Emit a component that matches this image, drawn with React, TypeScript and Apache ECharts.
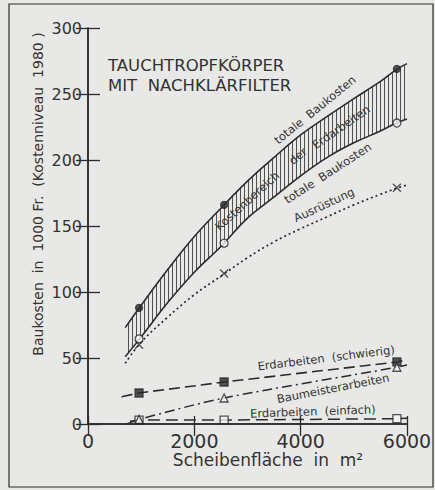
import React, { useEffect, useRef } from "react";
import * as echarts from "echarts";

// ---- data ----
const curveX = [700, 1000, 1500, 2000, 2500, 3000, 3500, 4000, 4500, 5000, 5500, 5800, 6000];
const totalHigh = [73, 90, 117, 142, 163.5, 184, 202, 219, 233, 246.5, 259.5, 268.5, 273];
const totalLow = [51, 66, 92, 115, 134.5, 156, 172, 188, 202, 213, 222, 228, 231];
const equipment = [46, 62, 81, 98, 112, 126, 138, 148, 157, 166, 174, 178.5, 181];

const hardX = [633, 960, 2560, 5810, 6000];
const earthHard = [20.7, 23.5, 31.8, 47, 48.5];
const masonX = [727, 960, 2560, 5810, 6000];
const mason = [0, 3.5, 19.7, 43, 44.7];
const easyX = [790, 960, 2560, 5810, 6000];
const earthEasy = [2, 3, 3, 4, 4.3];

const markX = [960, 2560, 5810];
const highMarks = [88, 166, 269];
const lowMarks = [64.5, 137, 228];
const equipMarks = [60, 114, 179];
const hardMarks = [23.5, 31.8, 47];
const masonMarks = [3.5, 19.7, 43];
const easyMarks = [3, 3, 4];

const xTicks = [0, 2000, 4000, 6000];
const yTicks = [0, 50, 100, 150, 200, 250, 300];

const titleLines = ["TAUCHTROPFKÖRPER", "MIT  NACHKLÄRFILTER"];
const yTitle = "Baukosten  in  1000 Fr.  (Kostenniveau  1980 )";
const xTitle = "Scheibenfläche  in  m²";

// in-plot labels (text, anchor in data units, angle in degrees)
const annoText = [
  "totale  Baukosten",
  "Kostenbereich",
  "der",
  "Erdarbeiten",
  "totale  Baukosten",
  "Ausrüstung",
  "Erdarbeiten  (schwierig)",
  "Baumeisterarbeiten",
  "Erdarbeiten  (einfach)",
];
const annoX = [4270, 2994, 3950, 4760, 4510, 4440, 4480, 4610, 4230];
const annoY = [238, 169, 203, 225, 190, 166, 50, 27, 9.5];
const annoAngle = [39, 42, 39, 35, 33, 25, 7, 11, 2];

const INK = "#2b2b2b";
const PAPER = "#e8e8e6";
const FONT = "DejaVu Sans";

const pairs = (xs: number[], ys: number[]) => xs.map((x, i) => [x, ys[i]]);

export default function App() {
  const ref = useRef<HTMLDivElement>(null);

  useEffect(() => {
    if (!ref.current) return;
    const chart = echarts.init(ref.current, undefined, { renderer: "svg" });

    const cv = document.createElement("canvas");
    cv.width = 4;
    cv.height = 4;
    const ctx = cv.getContext("2d");
    if (ctx) {
      ctx.fillStyle = "#505050";
      ctx.fillRect(0, 0, 1, 4);
    }
    const hatch: any = { image: cv, repeat: "repeat", imageWidth: 4, imageHeight: 4 };

    const axisLine = { show: true, lineStyle: { color: INK, width: 1.5 } };
    const tickStyle = { color: INK, width: 1.3 };

    const marker = (name: string, ys: number[], symbol: string, size: number, filled: boolean) => ({
      type: "scatter",
      name,
      data: pairs(markX, ys),
      symbol,
      symbolSize: size,
      itemStyle: {
        color: filled ? INK : symbol.startsWith("path") ? "rgba(0,0,0,0)" : "#f3f3f1",
        borderColor: INK,
        borderWidth: 1.3,
      },
      z: 6,
    });

    const option: any = {
      animation: false,
      backgroundColor: "transparent",
      textStyle: { fontFamily: FONT },
      title: {
        text: titleLines.join("\n"),
        left: 103,
        top: 50,
        textStyle: { fontFamily: FONT, fontSize: 16.5, fontWeight: "normal", color: "#333", lineHeight: 20 },
      },
      grid: { left: 88, right: 28, top: 28, bottom: 66 },
      xAxis: [
        {
          type: "value",
          position: "bottom",
          min: xTicks[0],
          max: xTicks[xTicks.length - 1],
          interval: 2000,
          z: 8,
          axisLine,
          axisTick: { show: true, inside: true, length: 8, lineStyle: tickStyle },
          axisLabel: { fontSize: 19, color: "#333", margin: 7, fontFamily: FONT, formatter: (v: number) => String(v) },
          splitLine: { show: false },
        },
        {
          type: "value",
          position: "top",
          min: xTicks[0],
          max: xTicks[xTicks.length - 1],
          interval: 2000,
          z: 8,
          axisLine,
          axisTick: { show: true, inside: true, length: 12, lineStyle: tickStyle },
          axisLabel: { show: false },
          splitLine: { show: false },
        },
      ],
      yAxis: [
        {
          type: "value",
          position: "left",
          min: yTicks[0],
          max: yTicks[yTicks.length - 1],
          interval: 50,
          z: 8,
          axisLine,
          axisTick: { show: true, inside: true, length: 12, lineStyle: tickStyle },
          axisLabel: { fontSize: 16, color: "#333", margin: 6, fontFamily: FONT },
          splitLine: { show: false },
        },
        {
          type: "value",
          position: "right",
          min: yTicks[0],
          max: yTicks[yTicks.length - 1],
          interval: 50,
          z: 8,
          axisLine,
          axisTick: { show: true, inside: true, length: 12, lineStyle: tickStyle },
          axisLabel: { show: false },
          splitLine: { show: false },
        },
      ],
      series: [
        {
          type: "line",
          name: "totale Baukosten (max)",
          data: pairs(curveX, totalHigh),
          smooth: 0.4,
          showSymbol: false,
          lineStyle: { color: INK, width: 1.6 },
          areaStyle: { color: hatch, opacity: 1 },
          z: 1,
        },
        {
          type: "line",
          name: "totale Baukosten (min)",
          data: pairs(curveX, totalLow),
          smooth: 0.4,
          showSymbol: false,
          lineStyle: { color: INK, width: 1.6 },
          areaStyle: { color: PAPER, opacity: 1 },
          z: 2,
        },
        {
          type: "line",
          name: "Ausrüstung",
          data: pairs(curveX, equipment),
          smooth: 0.4,
          showSymbol: false,
          lineStyle: { color: INK, width: 1.7, type: [2, 3] },
          z: 4,
        },
        {
          type: "line",
          name: "Erdarbeiten (schwierig)",
          data: pairs(hardX, earthHard),
          showSymbol: false,
          lineStyle: { color: INK, width: 1.6, type: [11, 5] },
          z: 4,
        },
        {
          type: "line",
          name: "Baumeisterarbeiten",
          data: pairs(masonX, mason),
          smooth: 0.3,
          showSymbol: false,
          lineStyle: { color: INK, width: 1.5, type: [10, 4, 2, 4] },
          z: 4,
        },
        {
          type: "line",
          name: "Erdarbeiten (einfach)",
          data: pairs(easyX, earthEasy),
          showSymbol: false,
          lineStyle: { color: INK, width: 1.5, type: [12, 6] },
          z: 4,
        },
        marker("max", highMarks, "circle", 7, true),
        marker("min", lowMarks, "circle", 8, false),
        marker("equip", equipMarks, "path://M0,0L10,10M10,0L0,10", 8, false),
        marker("hard", hardMarks, "rect", 8, true),
        marker("easy", easyMarks, "rect", 8, false),
        marker("mason", masonMarks, "triangle", 8, false),
      ],
      graphic: [],
    };

    chart.setOption(option);

    const annos = annoText.map((t, i) => {
      const p = chart.convertToPixel({ gridIndex: 0 }, [annoX[i], annoY[i]]) as number[];
      return {
        type: "text",
        x: p[0],
        y: p[1],
        rotation: (annoAngle[i] * Math.PI) / 180,
        style: {
          text: t,
          fontSize: 11.5,
          fontFamily: FONT,
          fill: "#333",
          align: "center",
          verticalAlign: "middle",
        },
        z: 10,
      };
    });

    chart.setOption({
      graphic: [
        {
          type: "rect",
          shape: { x: 9, y: 4, width: 424, height: 483 },
          style: { fill: "none", stroke: INK, lineWidth: 1.2 },
          silent: true,
        },
        {
          type: "text",
          x: 38,
          y: 194,
          rotation: Math.PI / 2,
          style: { text: yTitle, fontSize: 14, fontFamily: FONT, fill: "#333", align: "center", verticalAlign: "middle" },
        },
        {
          type: "text",
          x: 268,
          y: 460,
          style: { text: xTitle, fontSize: 17, fontFamily: FONT, fill: "#333", align: "center", verticalAlign: "middle" },
        },
        ...annos,
      ],
    });

    return () => chart.dispose();
  }, []);

  return (
    <div
      ref={ref}
      style={{ position: "absolute", left: 0, top: 0, width: 435, height: 490, background: PAPER }}
    />
  );
}
